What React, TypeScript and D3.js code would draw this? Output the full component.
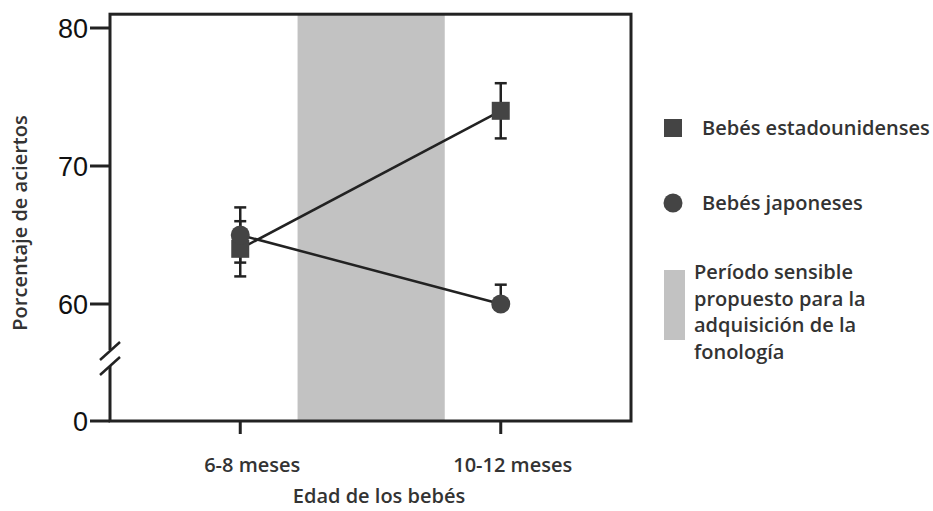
import React from 'react';
import * as d3 from 'd3';

// age groups, placed by mid-month of each range
const ageLabels = ['6-8 meses', '10-12 meses'];
const ageMonths = [7, 11];

// percentage of correct answers
const usaValues = [64, 74];
const usaErrors = [2, 2];
const japanValues = [65, 60];
const japanErrors = [2, 1.4];

// proposed sensitive period (months)
const sensitivePeriod = [7.88, 10.14];

const yTicks = [0, 60, 70, 80];

const legendItems = ['Bebés estadounidenses', 'Bebés japoneses'];
const periodLines = ['Período sensible', 'propuesto para la', 'adquisición de la', 'fonología'];

const W = 933;
const H = 511;
const textFont = "'Open Sans', sans-serif";
const dark = '#222';

export default function App() {
  // x spans 5..13 months across the frame
  const x = d3.scaleLinear().domain([5, 13]).range([110, 631]);
  // broken axis: 0 sits below the break, 60-81 above
  const y = d3.scaleLinear().domain([0, 60, 81]).range([421, 304, 14.2]);

  const left = x(5);
  const right = x(13);
  const top = y(81);
  const bottom = y(0);

  const line = d3.line<number>()
    .x((d, i) => x(ageMonths[i]))
    .y(d => y(d));

  const errorBar = (vals: number[], errs: number[], key: string) =>
    vals.map((v, i) => {
      const cx = x(ageMonths[i]);
      return (
        <g key={key + i} stroke={dark} strokeWidth={2.5}>
          <line x1={cx} x2={cx} y1={y(v - errs[i])} y2={y(v + errs[i])} />
          <line x1={cx - 6} x2={cx + 6} y1={y(v - errs[i])} y2={y(v - errs[i])} />
          <line x1={cx - 6} x2={cx + 6} y1={y(v + errs[i])} y2={y(v + errs[i])} />
        </g>
      );
    });

  const breakY = 358;

  return (
    <svg width={W} height={H} style={{ position: 'absolute', left: 0, top: 0, background: '#fff' }}>
      {/* sensitive period band */}
      <rect x={x(sensitivePeriod[0])} y={top} width={x(sensitivePeriod[1]) - x(sensitivePeriod[0])}
        height={bottom - top} fill="#c2c2c2" />

      {/* frame */}
      <rect x={left} y={top} width={right - left} height={bottom - top} fill="none" stroke={dark} strokeWidth={3} />

      {/* axis break */}
      <rect x={left - 4} y={breakY - 8} width={8} height={16} fill="#fff" />
      <line x1={left - 10} y1={breakY + 2} x2={left + 10} y2={breakY - 16} stroke={dark} strokeWidth={2.5} />
      <line x1={left - 10} y1={breakY + 17} x2={left + 10} y2={breakY - 1} stroke={dark} strokeWidth={2.5} />

      {/* y ticks */}
      {yTicks.map(t => (
        <g key={t}>
          <line x1={left - 20} x2={left} y1={y(t)} y2={y(t)} stroke={dark} strokeWidth={3} />
          <text x={left - 22} y={y(t)} dy="0.36em" textAnchor="end" fontSize={27}
            fontFamily="'Liberation Sans', Arial, sans-serif" fill="#111">{t}</text>
        </g>
      ))}

      {/* x ticks */}
      {ageMonths.map((m, i) => (
        <g key={m}>
          <line x1={x(m)} x2={x(m)} y1={bottom} y2={bottom + 13} stroke={dark} strokeWidth={3} />
          <text x={x(m) + 12} y={472} textAnchor="middle" fontSize={20} fontWeight={600}
            fontFamily={textFont} fill="#333">{ageLabels[i]}</text>
        </g>
      ))}

      {/* axis titles */}
      <text x={379} y={503} textAnchor="middle" fontSize={20} fontWeight={600} fontFamily={textFont} fill="#333">
        Edad de los bebés
      </text>
      <text transform={`translate(27,${223}) rotate(-90)`} textAnchor="middle" fontSize={20} fontWeight={600}
        fontFamily={textFont} fill="#333">Porcentaje de aciertos</text>

      {/* series lines */}
      <path d={line(usaValues) || ''} fill="none" stroke={dark} strokeWidth={2.5} />
      <path d={line(japanValues) || ''} fill="none" stroke={dark} strokeWidth={2.5} />

      {errorBar(usaValues, usaErrors, 'u')}
      {errorBar(japanValues, japanErrors, 'j')}

      {usaValues.map((v, i) => (
        <rect key={'us' + i} x={x(ageMonths[i]) - 9} y={y(v) - 9} width={18} height={18} fill="#444" />
      ))}
      {japanValues.map((v, i) => (
        <circle key={'jp' + i} cx={x(ageMonths[i])} cy={y(v)} r={9.5} fill="#444" />
      ))}

      {/* legend */}
      <rect x={664} y={119} width={18} height={18} fill="#444" />
      <text x={702} y={128} dy="0.35em" fontSize={20} fontWeight={600} fontFamily={textFont} fill="#333">
        {legendItems[0]}
      </text>
      <circle cx={673} cy={203} r={9.5} fill="#444" />
      <text x={702} y={203} dy="0.35em" fontSize={20} fontWeight={600} fontFamily={textFont} fill="#333">
        {legendItems[1]}
      </text>
      <rect x={664} y={270} width={21} height={70} fill="#c2c2c2" />
      {periodLines.map((l, i) => (
        <text key={l} x={694} y={272 + i * 26.5} dy="0.35em" fontSize={20} fontWeight={600}
          fontFamily={textFont} fill="#333">{l}</text>
      ))}
    </svg>
  );
}
